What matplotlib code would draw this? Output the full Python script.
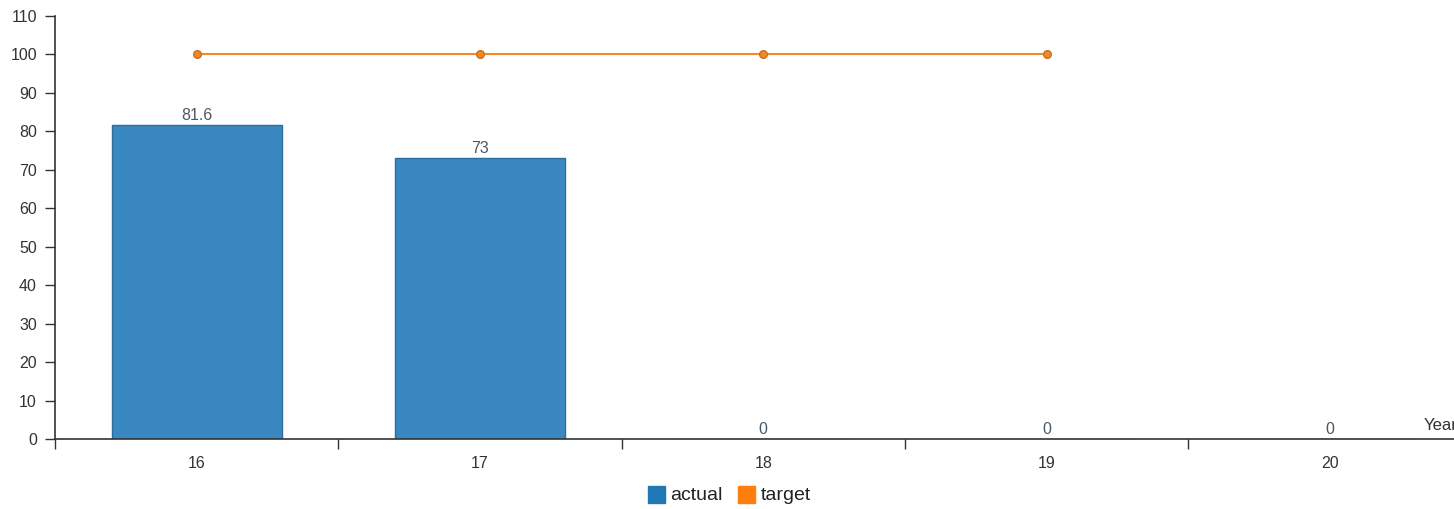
import matplotlib.pyplot as plt

plt.rcParams['font.family'] = ['Liberation Sans', 'DejaVu Sans']

years = ['16', '17', '18', '19', '20']
actual = [81.6, 73, 0, 0, 0]
target = [100, 100, 100, 100]
yticks = list(range(0, 111, 10))

fig = plt.figure(figsize=(14.54, 5.09), dpi=100)
ax = fig.add_axes([55 / 1454, 70 / 509, 1399 / 1454, 423 / 509])

x = list(range(len(years)))
ax.bar(x, actual, width=0.6, color='#3a88c2', edgecolor='#2b6d9c', linewidth=1, zorder=2)
for xi, v in zip(x, actual):
    ax.annotate(f'{v:g}', (xi, v), xytext=(0, 1.5), textcoords='offset points',
                ha='center', va='bottom', fontsize=11.5, color='#4a5866')

ax.plot(range(len(target)), target, color='#f28a26', linewidth=1.5, marker='o',
        markersize=5.5, markerfacecolor='#f0892a', markeredgecolor='#c8701c', zorder=3)

ax.set_yticks(yticks)
ax.set_xticks([i - 0.5 for i in range(len(years) + 1)])
ax.set_xticklabels([])
ax.set_xticks(x, minor=True)
ax.set_xticklabels(years, minor=True)
ax.set_xlim(-0.5, -0.5 + 1399 / 283.3)
ax.set_ylim(0, 110)
ax.tick_params(axis='x', which='minor', length=0, pad=12, labelsize=11.5, colors='#333333')
ax.tick_params(axis='x', which='major', length=7, width=1, color='#333333', direction='out')
ax.tick_params(axis='y', length=7, width=1, color='#333333', labelsize=11.5,
               labelcolor='#333333', pad=6)

for s in ['top', 'right']:
    ax.spines[s].set_visible(False)
ax.spines['left'].set_color('#333333')
ax.spines['bottom'].set_color('#333333')
ax.spines['left'].set_linewidth(1.2)
ax.spines['bottom'].set_linewidth(1.2)

fig.text(1424 / 1454, 1 - 426 / 509, 'Year', fontsize=12, color='#333333', va='center', ha='left')

# legend
fig.patches.append(plt.Rectangle((648 / 1454, 1 - 503 / 509), 17 / 1454, 17 / 509,
                                 transform=fig.transFigure, color='#1f77b4'))
fig.text(670 / 1454, 1 - 495 / 509, 'actual', fontsize=14, color='#222222', va='center')
fig.patches.append(plt.Rectangle((738 / 1454, 1 - 503 / 509), 17 / 1454, 17 / 509,
                                 transform=fig.transFigure, color='#ff7f0e'))
fig.text(761 / 1454, 1 - 495 / 509, 'target', fontsize=14, color='#222222', va='center')

fig.savefig('out.png', dpi=100)
